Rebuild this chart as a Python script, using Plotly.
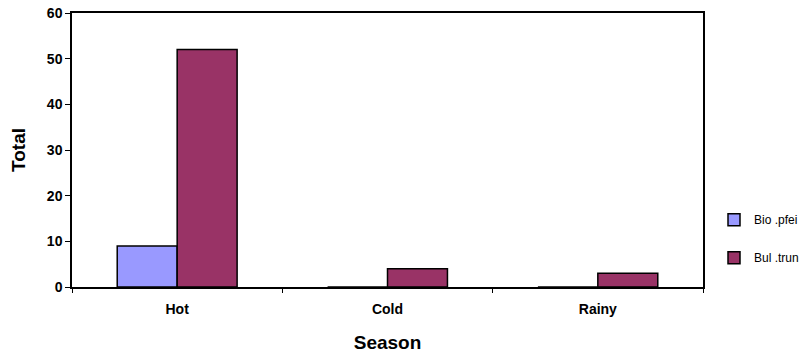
import plotly.graph_objects as go

seasons = ["Hot", "Cold", "Rainy"]
bio_pfei = [9, 0, 0]
bul_trun = [52, 4, 3]
y_ticks = [0, 10, 20, 30, 40, 50, 60]

font_family = "Liberation Sans, Arial, sans-serif"

fig = go.Figure()
fig.add_trace(go.Bar(name="Bio .pfei", x=seasons, y=bio_pfei, legendgroup="a",
                     marker=dict(color="#9999FF", line=dict(color="black", width=1.5))))
fig.add_trace(go.Bar(name="Bul .trun", x=seasons, y=bul_trun, legendgroup="b",
                     marker=dict(color="#993366", line=dict(color="black", width=1.5))))

fig.update_layout(
    width=800, height=360,
    barmode="group", bargap=0.43, bargroupgap=0,
    plot_bgcolor="white", paper_bgcolor="white",
    margin=dict(l=72, r=97, t=13, b=73, autoexpand=False),
    font=dict(family=font_family, color="black"),
    showlegend=True,
    legend=dict(xref="container", yref="container", x=0.8925, y=0.43,
                xanchor="left", yanchor="top",
                font=dict(size=12, family=font_family),
                tracegroupgap=19, bgcolor="rgba(0,0,0,0)"),
    xaxis=dict(
        title=dict(text="Season", font=dict(size=19, weight="bold"), standoff=20),
        tickfont=dict(size=14, weight="bold"),
        ticklabelstandoff=8,
        automargin=False,
        showline=True, linecolor="black", linewidth=1.5, mirror=True,
        ticks="outside", ticklen=4, tickcolor="black", tickson="boundaries",
        showgrid=False,
    ),
    yaxis=dict(
        title=dict(text="Total", font=dict(size=19, weight="bold"), standoff=16),
        tickfont=dict(size=14, weight="bold"),
        automargin=False,
        range=[0, 60], tickvals=y_ticks,
        showline=True, linecolor="black", linewidth=1.5, mirror=True,
        ticks="outside", ticklen=5, tickcolor="black",
        showgrid=False, zeroline=False,
    ),
)

fig.write_html("out.html",
               config={"displayModeBar": False},
               post_script="document.body.style.margin='0';document.body.style.padding='0';")
